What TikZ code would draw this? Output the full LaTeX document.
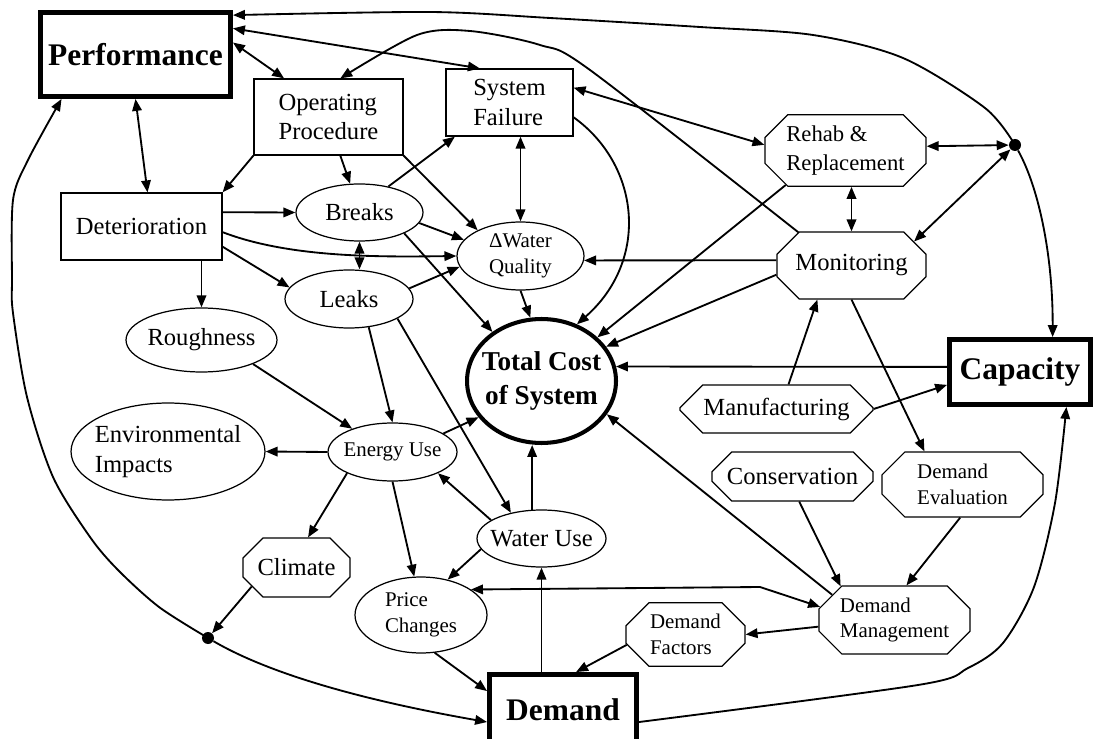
\documentclass[tikz,border=0pt]{standalone}
\usepackage{fontspec}
\setmainfont{Liberation Serif}
\usetikzlibrary{arrows.meta,positioning,shapes.geometric,shapes.misc}

\newcommand{\bigfnt}{\fontsize{17.9}{20}\selectfont\bfseries}
\newcommand{\costfnt}{\fontsize{15.5}{19.8}\selectfont\bfseries}
\newcommand{\midfnt}{\fontsize{14}{17}\selectfont}
\newcommand{\smlfnt}{\fontsize{11.9}{14.7}\selectfont}

\begin{document}
\begin{tikzpicture}[x=0.02cm,y=-0.02cm,
    box/.style={draw,line width=0.7pt,rectangle,align=left,font=\midfnt,inner sep=0pt},
    bigbox/.style={draw,line width=2.8pt,rectangle,font=\bigfnt,inner sep=0pt},
    oval/.style={draw,line width=0.7pt,ellipse,align=left,font=\midfnt,inner xsep=-0.18cm,inner ysep=0pt},
    octo/.style={draw,line width=0.7pt,chamfered rectangle,chamfered rectangle xsep=6.5pt,chamfered rectangle ysep=6.5pt,align=left,font=\midfnt,inner sep=0pt},
    dot/.style={circle,fill,inner sep=0pt,minimum size=0.24cm},
    arr/.style={line width=1.05pt,-{Triangle[length=6.8pt,width=5.4pt]}},
    darr/.style={line width=1.05pt,{Triangle[length=6.8pt,width=5.4pt]}-{Triangle[length=6.8pt,width=5.4pt]}}]
  \useasboundingbox (0,0) rectangle (1098,739);

  \node[bigbox,minimum width=3.8cm,minimum height=1.68cm] (perf) at (135.5,54.5) {Performance};
  \node[bigbox,minimum width=2.82cm,minimum height=1.3cm] (capac) at (1020,372) {Capacity};
  \node[bigbox,minimum width=2.94cm,minimum height=1.42cm] (demand) at (563,710) {Demand};
  \node[oval,line width=2.3pt,font=\costfnt,align=center,minimum width=2.98cm,minimum height=2.48cm] (tcost) at (541.5,381) {Total Cost\\of System};

  \node[box,minimum width=2.98cm,minimum height=1.52cm] (opproc) at (328.5,117) {Operating\\Procedure};
  \node[box,minimum width=2.54cm,minimum height=1.34cm] (sysfail) at (509.5,102.5) {System\\Failure};
  \node[box,minimum width=3.22cm,minimum height=1.34cm] (deter) at (141.5,226.5) {Deterioration};

  \node[oval,minimum width=2.54cm,minimum height=1.14cm] (breaks) at (359.5,212.5) {Breaks};
  \node[oval,minimum width=2.56cm,minimum height=1.16cm] (leaks) at (349,299) {Leaks};
  \node[oval,font=\smlfnt,align=center,minimum width=2.54cm,minimum height=1.36cm] (wq) at (520.5,256) {ΔWater\\Quality};
  \node[oval,minimum width=3.02cm,minimum height=1.28cm] (rough) at (201.5,340) {Roughness};
  \node[oval,minimum width=3.88cm,minimum height=1.94cm] (env) at (168,451.5) {Environmental\\Impacts};
  \node[oval,font=\smlfnt,minimum width=2.58cm,minimum height=1.16cm] (energy) at (392.5,452) {Energy Use};
  \node[oval,font=\smlfnt,minimum width=2.64cm,minimum height=1.52cm] (price) at (421,615) {Price\\Changes};
  \node[oval,minimum width=2.58cm,minimum height=1.14cm] (wuse) at (541.5,538.5) {Water Use};

  \node[octo,font=\fontsize{12.9}{16}\selectfont,minimum width=3.22cm,minimum height=1.34cm] (rehab) at (845.5,150.5) {Rehab \&\\Replacement};
  \node[octo,minimum width=2.98cm,minimum height=1.34cm] (monit) at (851.5,265.5) {Monitoring};
  \node[octo,minimum width=3.86cm,minimum height=0.96cm] (manuf) at (776.5,409) {Manufacturing};
  \node[octo,minimum width=3.22cm,minimum height=0.98cm] (conserv) at (792.5,476.5) {Conservation};
  \node[octo,font=\smlfnt,minimum width=3.22cm,minimum height=1.3cm] (deval) at (962.5,484.5) {Demand\\Evaluation};
  \node[octo,font=\smlfnt,minimum width=3.02cm,minimum height=1.36cm] (dmgmt) at (894.5,620) {Demand\\Management};
  \node[octo,font=\smlfnt,minimum width=2.38cm,minimum height=1.18cm] (dfact) at (685.5,634.5) {Demand\\Factors};
  \node[octo,minimum width=2.14cm,minimum height=1.18cm] (climate) at (296.5,567.5) {Climate};

  \node[dot] (jtop) at (1015,145) {};
  \node[dot] (jbot) at (208,638) {};

  % junction points
  \draw[arr] plot[smooth] coordinates {(jtop) (985,108) (903,58) (813,35) (700,27) (550,18) (430,12) (perf.22)};
  \draw[arr] (jtop) .. controls (1040,190) and (1053,260) .. (capac.47);
  \draw[darr] (rehab.3) -- (jtop);
  \draw[darr] (monit.21) -- (jtop);
  \draw[arr] (climate.203) -- (jbot);
  \draw[arr] (jbot) .. controls (280,680) and (390,705) .. (demand.189);
  \draw[arr] plot[smooth] coordinates {(jbot) (159,607) (118,570) (90,537) (53,477) (27,397) (13,313) (12,280) (13,200) (28,160) (perf.211)};

  \draw[darr] (perf.15) -- (sysfail.131);
  \draw[darr] (perf.7) -- (opproc.139);
  \draw[darr] (perf.south) -- (deter.80);
  \draw[arr] plot[smooth] coordinates {(monit.148) (590,70) (540,45) (470,31) (417,35) (opproc.73)};
  \draw[arr] (opproc.south west) -- (deter.north east);
  \draw[arr] (opproc.-73) -- (breaks.108);
  \draw[arr] (opproc.south east) -- (wq.149);
  \draw[arr] (deter.10) -- (breaks.west);
  \draw[arr] (deter.-4) .. controls (290,258) and (380,257) .. (wq.west);
  \draw[arr] (deter.-14) -- (leaks.169);
  \draw[arr] (rough.north |- deter.south) -- (rough.north);
  \draw[arr] (breaks.42) -- (sysfail.212);
  \draw[darr] (wq.north |- sysfail.south) -- (wq.north);
  \draw[arr] (breaks.-10) -- (wq.164);
  \draw[arr] (leaks.10) -- (wq.190);
  \draw[darr] (breaks.south) -- (breaks.south |- leaks.north);
  \draw[arr] (breaks.-25) -- (tcost.135);
  \draw[arr] (wq.south) -- (tcost.100);
  \draw[arr] (sysfail.-13) .. controls (640,165) and (650,260) .. (tcost.58);

  \draw[arr] (rehab.210) -- (tcost.38);
  \draw[arr] (monit.187) -- (tcost.28);
  \draw[arr] (monit.176) -- (wq.-4);
  \draw[arr] (capac.176) -- (tcost.11);
  \draw[darr] (sysfail.13) -- (rehab.176);
  \draw[darr] (rehab.south -| monit.north) -- (monit.north);
  \draw[arr] (manuf.64) -- (monit.225);
  \draw[arr] (monit.south) -- (deval.139);
  \draw[arr] (manuf.east) -- (capac.190);
  \draw[arr] (conserv.-75) -- (dmgmt.148);
  \draw[arr] (deval.-94) -- (dmgmt.71);
  \draw[arr] (dmgmt.158) -- (tcost.-27);
  \draw[darr] (price.27) -- (760,587) -- (dmgmt.170);
  \draw[arr] (dmgmt.185) -- (dfact.east);
  \draw[arr] (dfact.190) -- (demand.71);
  \draw[arr] plot[smooth] coordinates {(demand.-9) (918,685) (968,668) (1003,643) (1034,587) (1055,503) (capac.-37)};
  \draw[arr] (demand.north -| wuse.south) -- (wuse.south);
  \draw[arr] (wuse.108) -- (wuse.108 |- tcost.south);

  \draw[arr] (leaks.-22) -- (wuse.140);
  \draw[arr] (leaks.-55) -- (energy.north);
  \draw[arr] (rough.-25) -- (energy.150);
  \draw[arr] (energy.west) -- (env.east);
  \draw[arr] (energy.20) -- (tcost.210);
  \draw[arr] (energy.205) -- (climate.69);
  \draw[arr] (energy.south) -- (price.100);
  \draw[arr] (wuse.160) -- (energy.-25);
  \draw[arr] (wuse.190) -- (price.53);
  \draw[arr] (price.-70) -- (demand.166);
\end{tikzpicture}
\end{document}
